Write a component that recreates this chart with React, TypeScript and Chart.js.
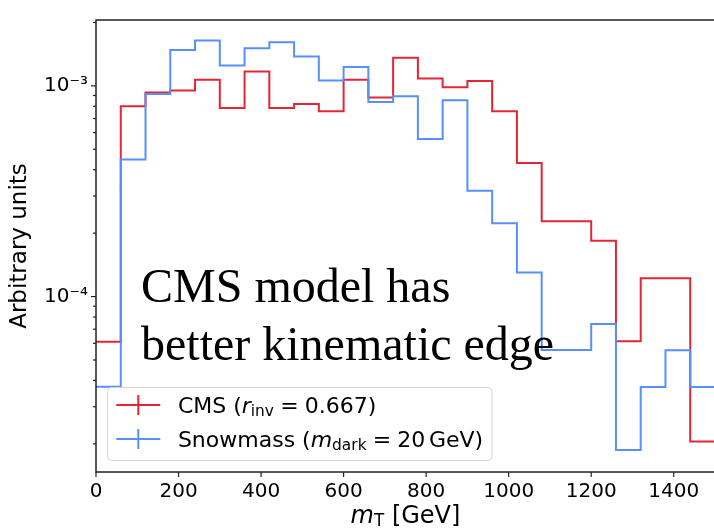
import React, { useEffect, useRef } from 'react';
import { Chart, registerables } from 'chart.js';

Chart.register(...registerables);

// ---- data ----
const binEdges = [0, 60, 120, 180, 240, 300, 360, 420, 480, 540, 600, 660, 720, 780, 840, 900, 960, 1020, 1080, 1140, 1200, 1260, 1320, 1380, 1440];
const upperEdge = 1500;
const cmsValues = [6.1e-5, 8.0e-4, 9.3e-4, 9.5e-4, 1.07e-3, 7.85e-4, 1.17e-3, 7.85e-4, 8.2e-4, 7.57e-4, 1.07e-3, 8.8e-4, 1.36e-3, 1.085e-3, 9.85e-4, 1.055e-3, 7.57e-4, 4.31e-4, 2.28e-4, 2.28e-4, 1.84e-4, 6.14e-5, 1.22e-4, 1.22e-4, 2.05e-5];
const snowmassValues = [3.73e-5, 4.47e-4, 9.14e-4, 1.48e-3, 1.64e-3, 1.25e-3, 1.51e-3, 1.61e-3, 1.38e-3, 1.06e-3, 1.23e-3, 8.39e-4, 8.92e-4, 5.59e-4, 8.54e-4, 3.18e-4, 2.23e-4, 1.3e-4, 5.58e-5, 5.58e-5, 7.41e-5, 1.87e-5, 3.72e-5, 5.56e-5, 3.72e-5];
const xTickValues = [0, 200, 400, 600, 800, 1000, 1200, 1400];
const yDecadeLabels: Record<string, string> = { '-3': '10\u207B\u00B3', '-4': '10\u207B\u2074' };
const xRange = [0, 1500];
const yRange = [1.47e-5, 2.054e-3];
const seriesNames = ['CMS (r_inv = 0.667)', 'Snowmass (m_dark = 20 GeV)'];
const seriesColors = ['#e42536', '#5790fc'];
const yTitle = 'Arbitrary units';
const annotationLines = ['CMS model has', 'better kinematic edge'];

type Seg = { t: string; italic?: boolean; scale?: number; dy?: number; padL?: number; padR?: number };

const legendSegs: Seg[][] = [
  [{ t: 'CMS (' }, { t: 'r', italic: true }, { t: 'inv', scale: 0.7, dy: 0.15 }, { t: '=', padL: 0.28, padR: 0.28 }, { t: '0.667)' }],
  [{ t: 'Snowmass (' }, { t: 'm', italic: true }, { t: 'dark', scale: 0.7, dy: 0.15 }, { t: '=', padL: 0.28, padR: 0.28 }, { t: '20' }, { t: 'GeV)', padL: 0.167 }],
];
const xTitleSegs: Seg[] = [{ t: 'm', italic: true }, { t: 'T', scale: 0.7, dy: 0.13 }, { t: ' [GeV]' }];

const FONT = '"DejaVu Sans", sans-serif';

function segFont(s: Seg, size: number) {
  return `${s.italic ? 'italic ' : ''}${(size * (s.scale || 1)).toFixed(2)}px ${FONT}`;
}
function measureRich(ctx: CanvasRenderingContext2D, segs: Seg[], size: number) {
  let w = 0;
  for (const s of segs) {
    ctx.font = segFont(s, size);
    w += (s.padL || 0) * size + ctx.measureText(s.t).width + (s.padR || 0) * size;
  }
  return w;
}
function drawRich(ctx: CanvasRenderingContext2D, segs: Seg[], x: number, baseline: number, size: number) {
  let cx = x;
  ctx.textBaseline = 'alphabetic';
  ctx.textAlign = 'left';
  for (const s of segs) {
    ctx.font = segFont(s, size);
    cx += (s.padL || 0) * size;
    ctx.fillText(s.t, cx, baseline + (s.dy || 0) * size);
    cx += ctx.measureText(s.t).width + (s.padR || 0) * size;
  }
}

const decorPlugin = {
  id: 'decor',
  afterDraw(chart: any) {
    const { ctx, chartArea: a, scales } = chart;
    ctx.save();
    // frame
    ctx.strokeStyle = '#222';
    ctx.lineWidth = 1.5;
    ctx.strokeRect(a.left, a.top, a.right - a.left, a.bottom - a.top);
    // y tick marks
    ctx.lineWidth = 1.2;
    const ys = scales.y;
    for (const t of ys.ticks) {
      const v = t.value;
      const e = Math.floor(Math.log10(v) + 1e-9);
      const m = v / Math.pow(10, e);
      if (Math.abs(m - Math.round(m)) > 1e-6) continue;
      const py = ys.getPixelForValue(v);
      if (py < a.top - 1 || py > a.bottom - 2) continue;
      const len = Math.round(m) === 1 ? 5 : 3;
      ctx.beginPath();
      ctx.moveTo(a.left - len, py);
      ctx.lineTo(a.left, py);
      ctx.stroke();
    }
    // x tick marks
    const xs = scales.x;
    for (const v of xTickValues) {
      const px = xs.getPixelForValue(v);
      ctx.beginPath();
      ctx.moveTo(px, a.bottom);
      ctx.lineTo(px, a.bottom + 5);
      ctx.stroke();
    }
    // x title
    ctx.fillStyle = '#000';
    const tsize = 24;
    const tw = measureRich(ctx, xTitleSegs, tsize);
    drawRich(ctx, xTitleSegs, (a.left + a.right) / 2 - tw / 2, 523, tsize);

    // legend
    const ls = 22;
    const textW = Math.max(...legendSegs.map((s) => measureRich(ctx, s, ls)));
    const bx = a.left + 11.5;
    const bh = 73;
    const by = a.bottom - 11.5 - bh;
    const bw = 0.4 * ls + 2 * ls + 0.8 * ls + textW + 0.4 * ls;
    ctx.beginPath();
    (ctx as any).roundRect(bx, by, bw, bh, 4);
    ctx.fillStyle = 'rgba(255,255,255,0.8)';
    ctx.fill();
    ctx.strokeStyle = '#d6d6d6';
    ctx.lineWidth = 1;
    ctx.stroke();
    const rows = [by + 17.5, by + 51.5];
    legendSegs.forEach((segs, i) => {
      const ry = rows[i];
      const hx0 = bx + 0.4 * ls;
      const hx1 = hx0 + 2 * ls;
      ctx.strokeStyle = seriesColors[i];
      ctx.lineWidth = 2;
      ctx.beginPath();
      ctx.moveTo(hx0, ry);
      ctx.lineTo(hx1, ry);
      ctx.moveTo((hx0 + hx1) / 2, ry - 10);
      ctx.lineTo((hx0 + hx1) / 2, ry + 10);
      ctx.stroke();
      ctx.fillStyle = '#000';
      drawRich(ctx, segs, hx1 + 0.8 * ls, ry + 8, ls);
    });

    // annotation text
    ctx.fillStyle = '#000';
    ctx.font = '48px "Liberation Serif", serif';
    ctx.textAlign = 'left';
    ctx.textBaseline = 'alphabetic';
    ctx.fillText(annotationLines[0], 141, 302);
    ctx.fillText(annotationLines[1], 141, 360);
    ctx.restore();
  },
};

function stepPoints(vals: number[]) {
  const pts = binEdges.map((e, i) => ({ x: e, y: vals[i] }));
  pts.push({ x: upperEdge, y: vals[vals.length - 1] });
  return pts;
}

export default function App() {
  const ref = useRef<HTMLCanvasElement | null>(null);
  useEffect(() => {
    if (!ref.current) return;
    const tickFont = { family: FONT, size: 20 };
    const chart = new Chart(ref.current, {
      type: 'line',
      data: {
        datasets: [
          {
            label: seriesNames[0],
            data: stepPoints(cmsValues),
            borderColor: seriesColors[0],
            borderWidth: 2,
            pointRadius: 0,
            fill: false,
            stepped: 'before',
            order: 1,
          },
          {
            label: seriesNames[1],
            data: stepPoints(snowmassValues),
            borderColor: seriesColors[1],
            borderWidth: 2,
            pointRadius: 0,
            fill: false,
            stepped: 'before',
            order: 0,
          },
        ],
      },
      options: {
        responsive: false,
        animation: false,
        devicePixelRatio: 1,
        layout: { padding: { left: 0, top: 10, right: 1, bottom: 0 } },
        plugins: { legend: { display: false }, tooltip: { enabled: false } },
        scales: {
          x: {
            type: 'linear',
            min: xRange[0],
            max: xRange[1],
            ticks: {
              stepSize: 200,
              includeBounds: false,
              autoSkip: false,
              maxRotation: 0,
              minRotation: 0,
              padding: 8,
              font: tickFont,
              color: '#000',
              callback: (v: any) => (xTickValues.includes(Number(v)) ? String(v) : ''),
            },
            grid: { display: false, drawTicks: false },
            border: { display: false },
            afterFit: (s: any) => {
              s.height = 56;
            },
          },
          y: {
            type: 'logarithmic',
            min: yRange[0],
            max: yRange[1],
            ticks: {
              autoSkip: false,
              padding: 8,
              font: tickFont,
              color: '#000',
              callback: (v: any) => {
                const l = Math.log10(Number(v));
                const r = Math.round(l);
                return Math.abs(l - r) < 1e-6 ? yDecadeLabels[String(r)] ?? '' : '';
              },
            },
            grid: { display: false, drawTicks: false },
            border: { display: false },
            title: {
              display: true,
              text: yTitle,
              font: { family: FONT, size: 23 },
              color: '#000',
              padding: { top: 6, bottom: 0 },
            },
            afterFit: (s: any) => {
              s.width = 96;
            },
          },
        },
      },
      plugins: [decorPlugin],
    } as any);
    return () => chart.destroy();
  }, []);
  return (
    <div style={{ position: 'fixed', left: 0, top: 0, width: 714, height: 528, overflow: 'hidden', background: '#fff' }}>
      <canvas ref={ref} width={716} height={528} style={{ display: 'block' }} />
    </div>
  );
}
